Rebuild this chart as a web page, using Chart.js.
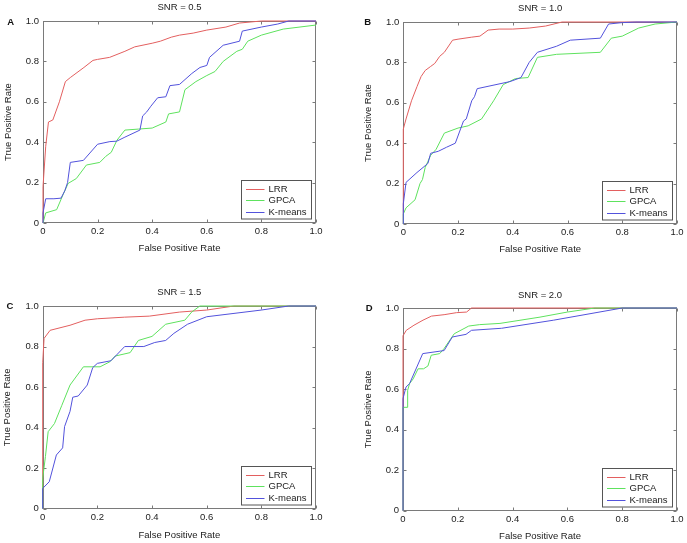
<!DOCTYPE html>
<html lang="en">
<head>
<meta charset="UTF-8">
<title>ROC curves by SNR</title>
<script src="https://cdn.jsdelivr.net/npm/chart.js"></script>
<style>
	body {
		margin: 0;
		padding: 0;
		background: #fff;
		width: 687px;
		height: 543px;
		overflow: hidden;
		position: relative;
	}

	canvas {
		position: absolute;
	}
</style>
</head>
<body>

<canvas id="chartA" width="343" height="270" style="left:0;top:0"></canvas>
<canvas id="chartB" width="344" height="270" style="left:343px;top:0"></canvas>
<canvas id="chartC" width="343" height="273" style="left:0;top:270px"></canvas>
<canvas id="chartD" width="344" height="273" style="left:343px;top:270px"></canvas>

<script>
	// data: [false positive rate, true positive rate]
	const methods = ['LRR', 'GPCA', 'K-means'];
	const panelTitles = ['SNR = 0.5', 'SNR = 1.0', 'SNR = 1.5', 'SNR = 2.0'];
	const panelLetters = ['A', 'B', 'C', 'D'];
	const tickValues = [0, 0.2, 0.4, 0.6, 0.8, 1.0];
	const tickLabels = ['0', '0.2', '0.4', '0.6', '0.8', '1.0'];

	const lrrA = [[0,0],[0,0.18],[0.01,0.38],[0.02,0.5],[0.036,0.51],[0.06,0.6],[0.082,0.7],[0.1,0.72],[0.15,0.77],[0.183,0.805],[0.2,0.81],[0.244,0.82],[0.3,0.85],[0.336,0.872],[0.4,0.89],[0.43,0.9],[0.47,0.92],[0.5,0.93],[0.55,0.94],[0.6,0.955],[0.67,0.97],[0.72,0.99],[0.8,1.0],[1,1]];
	const gpcaA = [[0,0],[0.01,0.05],[0.05,0.066],[0.073,0.139],[0.092,0.196],[0.122,0.22],[0.159,0.287],[0.208,0.3],[0.23,0.33],[0.25,0.35],[0.271,0.41],[0.3,0.46],[0.35,0.465],[0.4,0.47],[0.45,0.5],[0.46,0.54],[0.48,0.545],[0.5,0.55],[0.52,0.66],[0.56,0.7],[0.6,0.73],[0.63,0.75],[0.66,0.8],[0.71,0.85],[0.73,0.86],[0.75,0.9],[0.8,0.93],[0.88,0.96],[1,0.98]];
	const kmA = [[0,0],[0,0.05],[0.01,0.12],[0.04,0.12],[0.066,0.123],[0.08,0.16],[0.09,0.2],[0.1,0.3],[0.148,0.31],[0.2,0.39],[0.245,0.403],[0.27,0.405],[0.3,0.425],[0.355,0.46],[0.365,0.53],[0.38,0.55],[0.395,0.578],[0.42,0.62],[0.45,0.625],[0.465,0.68],[0.5,0.686],[0.545,0.74],[0.575,0.77],[0.6,0.78],[0.61,0.82],[0.66,0.88],[0.72,0.9],[0.73,0.95],[0.8,0.97],[0.86,0.985],[0.9,1.0],[1,1]];

	const lrrB = [[0,0],[0,0.47],[0.01,0.52],[0.03,0.61],[0.05,0.68],[0.065,0.73],[0.08,0.76],[0.1,0.78],[0.115,0.795],[0.133,0.83],[0.15,0.85],[0.18,0.91],[0.2,0.915],[0.25,0.925],[0.28,0.93],[0.31,0.96],[0.35,0.965],[0.4,0.965],[0.46,0.97],[0.52,0.98],[0.58,1.0],[1,1]];
	const gpcaB = [[0,0],[0,0.05],[0.01,0.08],[0.043,0.12],[0.061,0.2],[0.07,0.22],[0.08,0.28],[0.09,0.31],[0.1,0.34],[0.12,0.37],[0.15,0.45],[0.2,0.475],[0.237,0.486],[0.286,0.52],[0.33,0.61],[0.365,0.69],[0.41,0.72],[0.456,0.725],[0.49,0.825],[0.56,0.84],[0.72,0.85],[0.76,0.92],[0.8,0.93],[0.86,0.97],[0.92,0.99],[1,1]];
	const kmB = [[0,0],[0,0.1],[0.01,0.206],[0.05,0.255],[0.09,0.3],[0.1,0.35],[0.128,0.36],[0.158,0.38],[0.19,0.4],[0.22,0.51],[0.23,0.52],[0.25,0.61],[0.26,0.63],[0.27,0.67],[0.39,0.705],[0.43,0.725],[0.46,0.8],[0.49,0.85],[0.56,0.88],[0.61,0.91],[0.72,0.92],[0.75,0.99],[0.8,0.997],[0.85,1.0],[1,1]];

	const lrrC = [[0,0],[0,0.72],[0.005,0.84],[0.027,0.88],[0.1,0.905],[0.155,0.93],[0.2,0.937],[0.3,0.945],[0.39,0.95],[0.5,0.97],[0.6,0.98],[0.7,1.0],[1,1]];
	const gpcaC = [[0,0],[0,0.15],[0.01,0.257],[0.02,0.38],[0.043,0.42],[0.07,0.51],[0.1,0.61],[0.149,0.7],[0.21,0.7],[0.246,0.725],[0.265,0.753],[0.32,0.77],[0.35,0.83],[0.4,0.85],[0.45,0.91],[0.52,0.93],[0.545,0.97],[0.575,1.0],[1,1]];
	const kmC = [[0,0],[0,0.1],[0.024,0.133],[0.05,0.265],[0.073,0.3],[0.08,0.405],[0.1,0.48],[0.11,0.55],[0.13,0.556],[0.163,0.61],[0.183,0.696],[0.2,0.717],[0.25,0.73],[0.3,0.8],[0.37,0.8],[0.41,0.82],[0.45,0.83],[0.48,0.865],[0.53,0.91],[0.6,0.947],[0.8,0.98],[0.9,1.0],[1,1]];

	const lrrD = [[0,0],[0,0.863],[0.012,0.89],[0.04,0.915],[0.073,0.94],[0.104,0.96],[0.15,0.967],[0.195,0.977],[0.232,0.98],[0.25,1.0],[1,1]];
	const gpcaD = [[0,0],[0,0.51],[0.015,0.51],[0.017,0.594],[0.024,0.627],[0.037,0.65],[0.055,0.7],[0.075,0.7],[0.091,0.714],[0.103,0.767],[0.134,0.775],[0.15,0.8],[0.187,0.873],[0.24,0.911],[0.28,0.918],[0.354,0.924],[0.5,0.955],[0.6,0.98],[0.7,1.0],[1,1]];
	const kmD = [[0,0],[0,0.553],[0.011,0.61],[0.024,0.627],[0.072,0.775],[0.15,0.79],[0.18,0.857],[0.23,0.87],[0.25,0.89],[0.36,0.9],[0.55,0.94],[0.8,1.0],[1,1]];

	// styles
	const lineColors = ['#e35f5f', '#5ee25e', '#5252dc'];
	const FONT = '"Liberation Sans", Arial, sans-serif';
	const TEXT = '#222';
	const FRAME = '#7a7a7a';
	const FS = 9.5;
	const LH = FS * 1.2;

	Chart.defaults.font.family = FONT;
	Chart.defaults.font.size = FS;

	// layout of each panel in page pixels (canvas box, plot rectangle, text centres)
	const layouts = [
		{box: {x: 0, y: 0, w: 343, h: 270}, plot: {l: 43, t: 21, r: 316, b: 223}, titleY: 7, yTitleX: 8.3, xTitleY: 248.7, letter: [10.8, 22]},
		{box: {x: 343, y: 0, w: 344, h: 270}, plot: {l: 403.3, t: 22, r: 677, b: 224}, titleY: 8.3, yTitleX: 368.3, xTitleY: 249.3, letter: [367.8, 22.5]},
		{box: {x: 0, y: 270, w: 343, h: 273}, plot: {l: 42.7, t: 306, r: 316, b: 508.7}, titleY: 292.7, yTitleX: 7.3, xTitleY: 535, letter: [10, 306]},
		{box: {x: 343, y: 270, w: 344, h: 273}, plot: {l: 403, t: 308, r: 677, b: 510.7}, titleY: 295, yTitleX: 368.3, xTitleY: 536.7, letter: [369.3, 308]}
	];

	// box around the plot with inward ticks on all four sides, drawn under the curves
	const framePlugin = {
		id: 'frame',
		beforeDatasetsDraw(chart) {
			const {ctx, chartArea: a, scales} = chart;
			const l = Math.round(a.left) + 0.5, r = Math.round(a.right) - 0.5;
			const t = Math.round(a.top) + 0.5, b = Math.round(a.bottom) - 0.5;
			ctx.save();
			ctx.strokeStyle = FRAME;
			ctx.lineWidth = 1;
			ctx.strokeRect(l, t, r - l, b - t);
			ctx.beginPath();
			tickValues.forEach(v => {
				const px = Math.round(scales.x.getPixelForValue(v)) + 0.5;
				ctx.moveTo(px, b); ctx.lineTo(px, b - 3);
				ctx.moveTo(px, t); ctx.lineTo(px, t + 3);
				const py = Math.round(scales.y.getPixelForValue(v)) + 0.5;
				ctx.moveTo(l, py); ctx.lineTo(l + 3, py);
				ctx.moveTo(r, py); ctx.lineTo(r - 3, py);
			});
			ctx.stroke();
			ctx.restore();
		}
	};

	// legend box in the lower right corner of the plot
	const legendBoxPlugin = {
		id: 'legendBox',
		afterDraw(chart) {
			const {ctx, chartArea: a} = chart;
			const w = 70, h = 38.5;
			const x0 = Math.round(a.right - 5.5 - w) + 0.5;
			const y0 = Math.round(a.bottom - 4.5 - h) + 0.5;
			ctx.save();
			ctx.fillStyle = '#fff';
			ctx.fillRect(x0, y0, w, h);
			ctx.strokeStyle = '#555';
			ctx.lineWidth = 1;
			ctx.strokeRect(x0, y0, w, h);
			ctx.font = FS + 'px ' + FONT;
			ctx.textBaseline = 'middle';
			ctx.textAlign = 'left';
			chart.data.datasets.forEach((ds, i) => {
				const yy = Math.round(y0 + 8 + i * 11.6) + 0.5;
				ctx.strokeStyle = ds.borderColor;
				ctx.beginPath();
				ctx.moveTo(x0 + 4.5, yy);
				ctx.lineTo(x0 + 23, yy);
				ctx.stroke();
				ctx.fillStyle = TEXT;
				ctx.fillText(ds.label, x0 + 27, yy);
			});
			ctx.restore();
		}
	};

	// panel letter (A, B, C, D)
	const letterPlugin = {
		id: 'letter',
		afterDraw(chart, args, opts) {
			const ctx = chart.ctx;
			ctx.save();
			ctx.font = 'bold ' + FS + 'px ' + FONT;
			ctx.fillStyle = '#111';
			ctx.textAlign = 'center';
			ctx.textBaseline = 'middle';
			ctx.fillText(opts.text, opts.x, opts.y);
			ctx.restore();
		}
	};

	function axisOptions(horizontal, p) {
		const bx = p.box;
		return {
			type: 'linear',
			min: 0,
			max: 1,
			afterBuildTicks: s => { s.ticks = tickValues.map(v => ({value: v})); },
			afterFit: s => {
				if (horizontal) {
					s.height = bx.y + bx.h - p.plot.b;
					s.paddingLeft = 0;
					s.paddingRight = 0;
				} else {
					s.width = p.plot.l - bx.x;
					s.paddingTop = 0;
					s.paddingBottom = 0;
				}
			},
			ticks: {
				callback: (value, index) => tickLabels[index],
				color: TEXT,
				font: {size: FS},
				padding: horizontal ? 3 : 4,
				maxRotation: 0,
				autoSkip: false
			},
			grid: {display: false, drawTicks: false},
			border: {display: false},
			title: {
				display: true,
				text: horizontal ? 'False Positive Rate' : 'True Positive Rate',
				color: TEXT,
				font: {size: FS},
				padding: horizontal
					? {top: 0, bottom: bx.y + bx.h - p.xTitleY - LH / 2}
					: {top: p.yTitleX - bx.x - LH / 2, bottom: 0}
			}
		};
	}

	function makeChart(id, idx, series) {
		const p = layouts[idx];
		const bx = p.box;
		const titleTop = p.titleY - bx.y - LH / 2;
		new Chart(document.getElementById(id), {
			type: 'scatter',
			data: {
				datasets: methods.map((m, i) => ({
					label: m,
					data: series[i].map(([x, y]) => ({x: x, y: y})),
					showLine: true,
					borderColor: lineColors[i],
					backgroundColor: lineColors[i],
					borderWidth: 1,
					pointRadius: 0,
					tension: 0,
					fill: false,
					clip: false,
					order: methods.length - 1 - i
				}))
			},
			options: {
				responsive: false,
				animation: false,
				events: [],
				layout: {padding: {left: 0, right: bx.x + bx.w - p.plot.r, top: 0, bottom: 0}},
				plugins: {
					legend: {display: false},
					tooltip: {enabled: false},
					title: {
						display: true,
						fullSize: false,
						text: panelTitles[idx],
						color: TEXT,
						font: {size: FS, weight: 'normal'},
						padding: {top: titleTop, bottom: p.plot.t - bx.y - LH - titleTop}
					},
					letter: {text: panelLetters[idx], x: p.letter[0] - bx.x, y: p.letter[1] - bx.y}
				},
				scales: {
					x: axisOptions(true, p),
					y: axisOptions(false, p)
				}
			},
			plugins: [framePlugin, legendBoxPlugin, letterPlugin]
		});
	}

	makeChart('chartA', 0, [lrrA, gpcaA, kmA]);
	makeChart('chartB', 1, [lrrB, gpcaB, kmB]);
	makeChart('chartC', 2, [lrrC, gpcaC, kmC]);
	makeChart('chartD', 3, [lrrD, gpcaD, kmD]);
</script>

</body>
</html>
